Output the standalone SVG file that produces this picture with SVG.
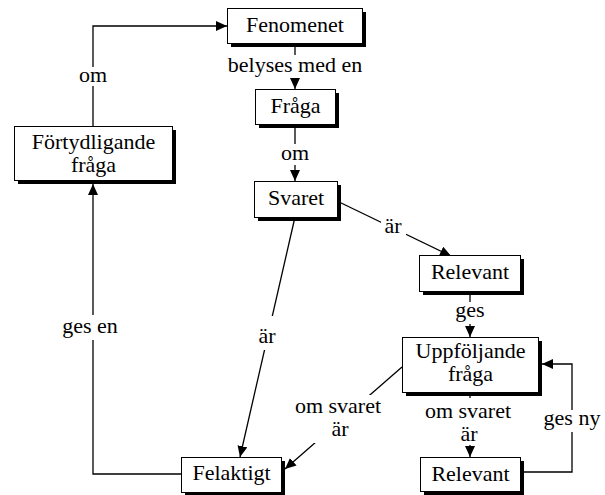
<svg xmlns="http://www.w3.org/2000/svg" width="605" height="495" viewBox="0 0 605 495">
  <defs>
    <marker id="arrow" markerUnits="userSpaceOnUse" markerWidth="11" markerHeight="10" refX="11" refY="5" orient="auto">
      <path d="M0,0 L11,5 L0,10 z" fill="#000"/>
    </marker>
    <style>
      .box { fill: #fff; stroke: #000; stroke-width: 1; }
      .shadow { fill: #000; }
      .edge { fill: none; stroke: #000; stroke-width: 1.3; }
      .arrow { marker-end: url(#arrow); }
      .gap { fill: #fff; }
    </style>
  </defs>
  <rect width="605" height="495" fill="#fff"/>

  <g font-family="'Liberation Serif', 'Times New Roman', serif" font-size="22" fill="#000" text-anchor="middle">

  <!-- connectors, drawn first so label gaps can break the lines -->
  <g id="connectors">
    <path class="edge arrow" d="M93,126 V26 H227"/>
    <path class="edge arrow" d="M295,43 V89"/>
    <path class="edge arrow" d="M295,124 V181"/>
    <path class="edge arrow" d="M337,201 L451,256"/>
    <path class="edge arrow" d="M470,291 V337"/>
    <path class="edge arrow" d="M295,217 L240,457"/>
    <path class="edge arrow" d="M402,367 L285,469"/>
    <path class="edge arrow" d="M470,392 V457"/>
    <path class="edge arrow" d="M520,472 H572 V364 H542"/>
    <path class="edge arrow" d="M181,474 H93 V184"/>

    <rect class="gap" x="76" y="67" width="34" height="19"/>
    <text x="93" y="82">om</text>

    <rect class="gap" x="226" y="55" width="138" height="23"/>
    <text x="295" y="72">belyses med en</text>

    <rect class="gap" x="278" y="144" width="34" height="21"/>
    <text x="295" y="160">om</text>

    <rect class="gap" x="381" y="218" width="25" height="20"/>
    <text x="393" y="233">är</text>

    <rect class="gap" x="453" y="302" width="34" height="22"/>
    <text x="470" y="317">ges</text>

    <rect class="gap" x="255" y="316" width="27" height="34"/>
    <text x="267" y="343">är</text>

    <rect class="gap" x="60" y="315" width="60" height="25"/>
    <text x="90" y="333">ges en</text>

    <rect class="gap" x="295" y="395" width="86" height="48"/>
    <text x="338" y="413">om svaret</text>
    <text x="340" y="436">är</text>

    <rect class="gap" x="424" y="398" width="90" height="47"/>
    <text x="468" y="418">om svaret</text>
    <text x="469" y="441">är</text>

    <rect class="gap" x="542" y="410" width="60" height="22"/>
    <text x="572" y="425">ges ny</text>
  </g>

  <g id="fenomenet">
    <rect class="shadow" x="231" y="12" width="135" height="35"/>
    <rect class="box" x="227.5" y="8.5" width="135" height="35"/>
    <text x="295" y="32">Fenomenet</text>
  </g>

  <g id="fraga">
    <rect class="shadow" x="259" y="93" width="80" height="35"/>
    <rect class="box" x="255.5" y="89.5" width="80" height="35"/>
    <text x="295.5" y="113">Fråga</text>
  </g>

  <g id="svaret">
    <rect class="shadow" x="258" y="185" width="83" height="36"/>
    <rect class="box" x="254.5" y="181.5" width="83" height="36"/>
    <text x="296" y="205">Svaret</text>
  </g>

  <g id="fortydligande">
    <rect class="shadow" x="18" y="130" width="158" height="54"/>
    <rect class="box" x="14.5" y="126.5" width="158" height="54"/>
    <text x="93.5" y="149">Förtydligande</text>
    <text x="93.5" y="172">fråga</text>
  </g>

  <g id="relevant">
    <rect class="shadow" x="423" y="259" width="101" height="36"/>
    <rect class="box" x="419.5" y="255.5" width="101" height="36"/>
    <text x="470" y="279">Relevant</text>
  </g>

  <g id="uppfoljande">
    <rect class="shadow" x="406" y="341" width="136" height="55"/>
    <rect class="box" x="402.5" y="337.5" width="136" height="55"/>
    <text x="470.5" y="358">Uppföljande</text>
    <text x="470.5" y="381">fråga</text>
  </g>

  <g id="felaktigt">
    <rect class="shadow" x="185" y="461" width="100" height="35"/>
    <rect class="box" x="181.5" y="457.5" width="100" height="35"/>
    <text x="231.5" y="480">Felaktigt</text>
  </g>

  <g id="relevant-2">
    <rect class="shadow" x="424" y="461" width="100" height="34"/>
    <rect class="box" x="420.5" y="457.5" width="100" height="34"/>
    <text x="470.5" y="481">Relevant</text>
  </g>

  </g>
</svg>
